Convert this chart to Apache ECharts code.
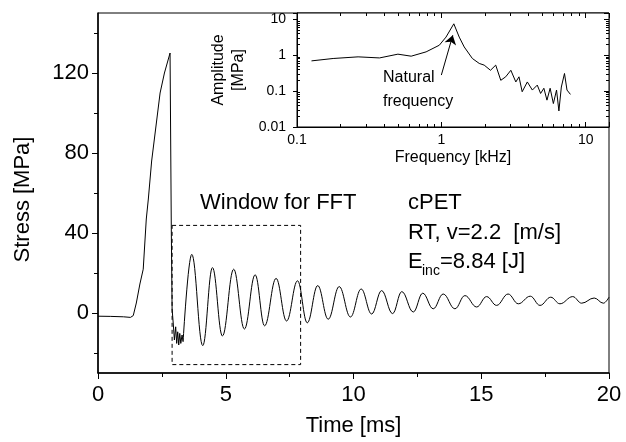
<!DOCTYPE html>
<html>
<head>
<meta charset="utf-8">
<title>Stress history and FFT</title>
<script src="https://cdn.jsdelivr.net/npm/echarts@6/dist/echarts.min.js"></script>
<style>
  html, body { margin: 0; padding: 0; background: #fff; }
  #main { width: 626px; height: 442px; }
</style>
</head>
<body>
<div id="main"></div>
<script>
// main trace: flat part, loading pulse, drop and the noisy bit (drawn straight)
var pulseTime = [0, 0.5, 1.0, 1.27, 1.38, 1.5, 1.64, 1.77, 1.89, 1.97, 2.1, 2.27, 2.43, 2.6, 2.82, 2.87, 2.9, 2.95, 2.99, 3.04, 3.08, 3.12, 3.16, 3.2, 3.24, 3.29, 3.33];
var pulseStress = [-1.6, -1.7, -1.9, -2.2, -1.3, 5, 14.5, 21.9, 47, 57, 76, 93.5, 110, 120, 130, 40, 2, -6, -13.5, -6.9, -15.2, -9.4, -16, -10.2, -15.2, -11, -14.3];

// ringing after unloading: peaks and troughs (drawn smooth)
var ringTime = [3.33, 3.67, 4.10, 4.48, 4.87, 5.31, 5.73, 6.15, 6.52, 6.97, 7.38, 7.81, 8.19, 8.60, 9.01, 9.44, 9.88, 10.30, 10.71, 11.10, 11.53, 11.89, 12.34, 12.71, 13.12, 13.51, 13.97, 14.36, 14.82, 15.21, 15.60, 16.05, 16.45, 16.92, 17.30, 17.72, 18.08, 18.58, 18.93, 19.42, 19.78, 20];
var ringStress = [-14.3, 29.3, -16.3, 22.7, -11.5, 21.9, -8, 19.1, -6.4, 17.3, -4, 16.1, -4.9, 13.7, -3.1, 13.2, -2, 12, -0.5, 11.2, -0.3, 10.7, 0.5, 9.9, 2.1, 9.5, 2.1, 8.7, 3, 8.2, 3.8, 9.5, 4.6, 8.4, 3.8, 7.9, 4.6, 8.2, 4.9, 7.5, 4.9, 7.9];

// inset spectrum
var freq = [0.126, 0.178, 0.265, 0.373, 0.5, 0.618, 0.784, 0.968, 1.077, 1.22, 1.33, 1.44, 1.64, 1.83, 1.98, 2.19, 2.38, 2.58, 2.79, 3.03, 3.28, 3.45, 3.63, 3.94, 4.27, 4.62, 4.87, 5.13, 5.39, 5.67, 5.97, 6.28, 6.52, 6.78, 7.13, 7.42, 7.84];
var amp = [0.695, 0.81, 0.9, 0.84, 1.07, 0.94, 1.24, 1.9, 3.2, 7.5, 3.2, 1.7, 0.81, 0.59, 0.53, 0.38, 0.53, 0.2, 0.25, 0.38, 0.18, 0.25, 0.096, 0.18, 0.107, 0.147, 0.086, 0.12, 0.056, 0.12, 0.045, 0.107, 0.028, 0.13, 0.31, 0.107, 0.081];

// ticks
var stressLabels = [0, 40, 80, 120];
var stressMinor = [-20, 20, 60, 100, 140];
var logMinor = [2, 3, 4, 5, 6, 7, 8, 9];

// dashed FFT window [t0, t1, sLow, sHigh] and the arrow [f, A]
var fftWindow = [2.9, 7.93, -25.8, 43.8];
var arrowTail = [1.0, 0.28];
var arrowHead = [1.2, 3.6];

var FONT = 'Liberation Sans, Arial, sans-serif';
var black = '#000';

function zip(a, b) {
	return a.map(function (v, i) { return [v, b[i]]; });
}

function powLabel(v) {
	var e = Math.log10(v);
	if (Math.abs(e - Math.round(e)) > 1e-6) return '';
	return String(Math.pow(10, Math.round(e)));
}

// minor tick positions in log10 space, between decades lo..hi
function minorLog(lo, hi) {
	var out = [];
	for (var d = lo; d < hi; d++) {
		logMinor.forEach(function (m) { out.push(d + Math.log10(m)); });
	}
	return out;
}

var fMin = 0.1, fMax = 14.5, aMin = 0.01, aMax = 15;

// extra axis in log10 space, only there to carry the small log ticks
function insetMinorAxis(pos, lo, hi, ticks) {
	return {
		gridIndex: 1,
		type: 'value',
		position: pos,
		min: lo,
		max: hi,
		axisLine: { show: false, onZero: false },
		axisTick: { show: true, inside: true, length: 3, customValues: ticks, lineStyle: { color: black } },
		axisLabel: { show: false },
		splitLine: { show: false }
	};
}

var chart = echarts.init(document.getElementById('main'));

var option = {
	animation: false,
	backgroundColor: '#fff',
	textStyle: { fontFamily: FONT, color: black },
	grid: [
		{ left: 98, right: 17, top: 13, bottom: 65, show: true, borderColor: black, borderWidth: 1 },
		{ left: 297, right: 17, top: 13, bottom: 315, show: true, borderColor: black, borderWidth: 1, backgroundColor: '#fff' }
	],
	xAxis: [
		{
			gridIndex: 0,
			type: 'value',
			position: 'bottom',
			min: 0,
			max: 20,
			interval: 5,
			name: 'Time [ms]',
			nameLocation: 'middle',
			nameGap: 42,
			nameTextStyle: { fontSize: 22, color: black, fontFamily: FONT },
			axisLine: { onZero: false, lineStyle: { color: black, width: 1.5 } },
			axisTick: { length: 6, lineStyle: { color: black } },
			minorTick: { show: true, splitNumber: 2, length: 4, lineStyle: { color: black } },
			axisLabel: { fontSize: 22, color: black, margin: 11, fontFamily: FONT },
			splitLine: { show: false }
		},
		{
			gridIndex: 1,
			type: 'log',
			logBase: 10,
			position: 'bottom',
			min: fMin,
			max: fMax,
			name: 'Frequency [kHz]',
			nameLocation: 'middle',
			nameGap: 23,
			nameTextStyle: { fontSize: 16, color: black, fontFamily: FONT },
			axisLine: { onZero: false, lineStyle: { color: black, width: 1 } },
			axisTick: { inside: true, length: 5, lineStyle: { color: black } },
			axisLabel: { fontSize: 14, color: black, margin: 6, formatter: powLabel, fontFamily: FONT },
			splitLine: { show: false }
		},
		insetMinorAxis('bottom', Math.log10(fMin), Math.log10(fMax), minorLog(-1, 2)),
		{
			gridIndex: 1,
			type: 'log',
			position: 'top',
			min: fMin,
			max: fMax,
			axisLine: { show: false, onZero: false },
			axisTick: { inside: true, length: 5, lineStyle: { color: black } },
			axisLabel: { show: false },
			splitLine: { show: false }
		},
		insetMinorAxis('top', Math.log10(fMin), Math.log10(fMax), minorLog(-1, 2))
	],
	yAxis: [
		{
			gridIndex: 0,
			type: 'value',
			position: 'left',
			min: -30,
			max: 150,
			name: 'Stress [MPa]',
			nameLocation: 'middle',
			nameGap: 64,
			nameTextStyle: { fontSize: 22, color: black, fontFamily: FONT, padding: [0, 13, 0, 0] },
			axisLine: { onZero: false, lineStyle: { color: black, width: 1.5 } },
			axisTick: { length: 6, customValues: stressLabels, lineStyle: { color: black } },
			axisLabel: { fontSize: 22, color: black, margin: 9, customValues: stressLabels, fontFamily: FONT },
			splitLine: { show: false }
		},
		{
			gridIndex: 0,
			type: 'value',
			position: 'left',
			min: -30,
			max: 150,
			axisLine: { show: false, onZero: false },
			axisTick: { length: 4, customValues: stressMinor, lineStyle: { color: black } },
			axisLabel: { show: false },
			splitLine: { show: false }
		},
		{
			gridIndex: 1,
			type: 'log',
			logBase: 10,
			position: 'left',
			min: aMin,
			max: aMax,
			name: 'Amplitude\n[MPa]',
			nameLocation: 'middle',
			nameGap: 48,
			nameTextStyle: { fontSize: 16, lineHeight: 20, color: black, fontFamily: FONT },
			axisLine: { onZero: false, lineStyle: { color: black, width: 1 } },
			axisTick: { length: 4, lineStyle: { color: black } },
			axisLabel: { fontSize: 14, color: black, margin: 11, formatter: powLabel, fontFamily: FONT },
			splitLine: { show: false }
		},
		insetMinorAxis('left', Math.log10(aMin), Math.log10(aMax), minorLog(-2, 2)),
		{
			gridIndex: 1,
			type: 'log',
			position: 'right',
			min: aMin,
			max: aMax,
			axisLine: { show: false, onZero: false },
			axisTick: { inside: true, length: 5, lineStyle: { color: black } },
			axisLabel: { show: false },
			splitLine: { show: false }
		},
		insetMinorAxis('right', Math.log10(aMin), Math.log10(aMax), minorLog(-2, 2))
	],
	series: [
		{
			type: 'line',
			xAxisIndex: 0,
			yAxisIndex: 0,
			data: zip(pulseTime, pulseStress),
			showSymbol: false,
			lineStyle: { color: black, width: 1 },
			markArea: {
				silent: true,
				itemStyle: { color: 'rgba(0,0,0,0)', borderColor: black, borderWidth: 1, borderType: [4, 3] },
				data: [[{ coord: [fftWindow[0], fftWindow[3]] }, { coord: [fftWindow[1], fftWindow[2]] }]]
			}
		},
		{
			type: 'line',
			xAxisIndex: 0,
			yAxisIndex: 0,
			data: zip(ringTime, ringStress),
			showSymbol: false,
			smooth: 0.4,
			smoothMonotone: 'x',
			lineStyle: { color: black, width: 1 }
		},
		{
			type: 'line',
			xAxisIndex: 1,
			yAxisIndex: 2,
			data: zip(freq, amp),
			showSymbol: false,
			lineStyle: { color: black, width: 1 },
			markLine: {
				silent: true,
				symbol: ['none', 'arrow'],
				symbolSize: 9,
				label: { show: false },
				lineStyle: { color: black, width: 1, type: 'solid' },
				data: [[{ coord: arrowTail }, { coord: arrowHead }]]
			}
		}
	],
	graphic: [
		{ type: 'text', x: 200, y: 203, style: { text: 'Window for FFT', font: '22px ' + FONT, fill: black, verticalAlign: 'middle' } },
		{ type: 'text', x: 408, y: 203, style: { text: 'cPET', font: '22px ' + FONT, fill: black, verticalAlign: 'middle' } },
		{ type: 'text', x: 408, y: 233, style: { text: 'RT, v=2.2  [m/s]', font: '22px ' + FONT, fill: black, verticalAlign: 'middle' } },
		{ type: 'text', x: 408, y: 262, style: { text: 'E', font: '22px ' + FONT, fill: black, verticalAlign: 'middle' } },
		{ type: 'text', x: 422, y: 271, style: { text: 'inc', font: '14px ' + FONT, fill: black, verticalAlign: 'middle' } },
		{ type: 'text', x: 440, y: 262, style: { text: '=8.84 [J]', font: '22px ' + FONT, fill: black, verticalAlign: 'middle' } },
		{ type: 'text', x: 383, y: 78, z: 10, style: { text: 'Natural', font: '16px ' + FONT, fill: black, verticalAlign: 'middle' } },
		{ type: 'text', x: 383, y: 102, z: 10, style: { text: 'frequency', font: '16px ' + FONT, fill: black, verticalAlign: 'middle' } }
	]
};

chart.setOption(option);
</script>
</body>
</html>
